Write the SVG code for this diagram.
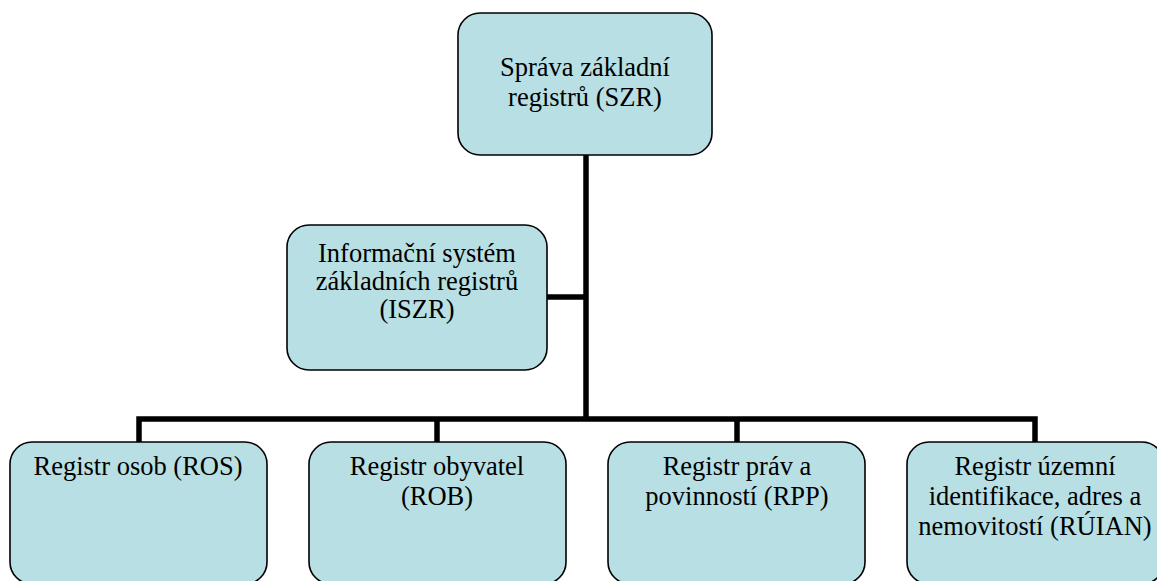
<svg xmlns="http://www.w3.org/2000/svg" width="1157" height="581" viewBox="0 0 1157 581">
<defs>
<style>
.box{fill:#B8DFE3;stroke:#000;stroke-width:1.6}
.con{stroke:#000;stroke-width:5.5;fill:none}
</style>
</defs>
<rect width="1157" height="581" fill="#fff"/>
<g id="connectors">
<path class="con" d="M586 155 V419"/>
<path class="con" d="M547 297 H586"/>
<path class="con" d="M139 442 V419 H1035 V442"/>
<path class="con" d="M437 419 V442"/>
<path class="con" d="M737 419 V442"/>
</g>
<g id="szr">
<rect class="box" x="458" y="13" width="254" height="142" rx="22"/>
<text x="585" y="76" style="font-family:'Liberation Serif',serif;font-size:26.5px" text-anchor="middle">Správa základní</text>
<text x="585" y="106" style="font-family:'Liberation Serif',serif;font-size:26.5px" text-anchor="middle">registrů (SZR)</text>
</g>
<g id="iszr">
<rect class="box" x="287" y="225" width="260" height="145" rx="22"/>
<text x="417" y="262" style="font-family:'Liberation Serif',serif;font-size:26.5px" text-anchor="middle">Informační systém</text>
<text x="417" y="290" style="font-family:'Liberation Serif',serif;font-size:26.5px" text-anchor="middle">základních registrů</text>
<text x="417" y="318" style="font-family:'Liberation Serif',serif;font-size:26.5px" text-anchor="middle">(ISZR)</text>
</g>
<g id="ros">
<rect class="box" x="10" y="442" width="257" height="142" rx="22"/>
<text x="138" y="475" style="font-family:'Liberation Serif',serif;font-size:26.5px" text-anchor="middle">Registr osob (ROS)</text>
</g>
<g id="rob">
<rect class="box" x="309" y="442" width="257" height="142" rx="22"/>
<text x="437" y="475" style="font-family:'Liberation Serif',serif;font-size:26.5px" text-anchor="middle">Registr obyvatel</text>
<text x="437" y="505" style="font-family:'Liberation Serif',serif;font-size:26.5px" text-anchor="middle">(ROB)</text>
</g>
<g id="rpp">
<rect class="box" x="608" y="442" width="257" height="142" rx="22"/>
<text x="737" y="475" style="font-family:'Liberation Serif',serif;font-size:26.5px" text-anchor="middle">Registr práv a</text>
<text x="737" y="505" style="font-family:'Liberation Serif',serif;font-size:26.5px" text-anchor="middle">povinností (RPP)</text>
</g>
<g id="ruian">
<rect class="box" x="907" y="442" width="257" height="142" rx="22"/>
<text x="1035" y="475" style="font-family:'Liberation Serif',serif;font-size:26.5px" text-anchor="middle">Registr územní</text>
<text x="1035" y="505" style="font-family:'Liberation Serif',serif;font-size:26.5px" text-anchor="middle">identifikace, adres a</text>
<text x="1035" y="535" style="font-family:'Liberation Serif',serif;font-size:26.5px" text-anchor="middle">nemovitostí (RÚIAN)</text>
</g>
</svg>
